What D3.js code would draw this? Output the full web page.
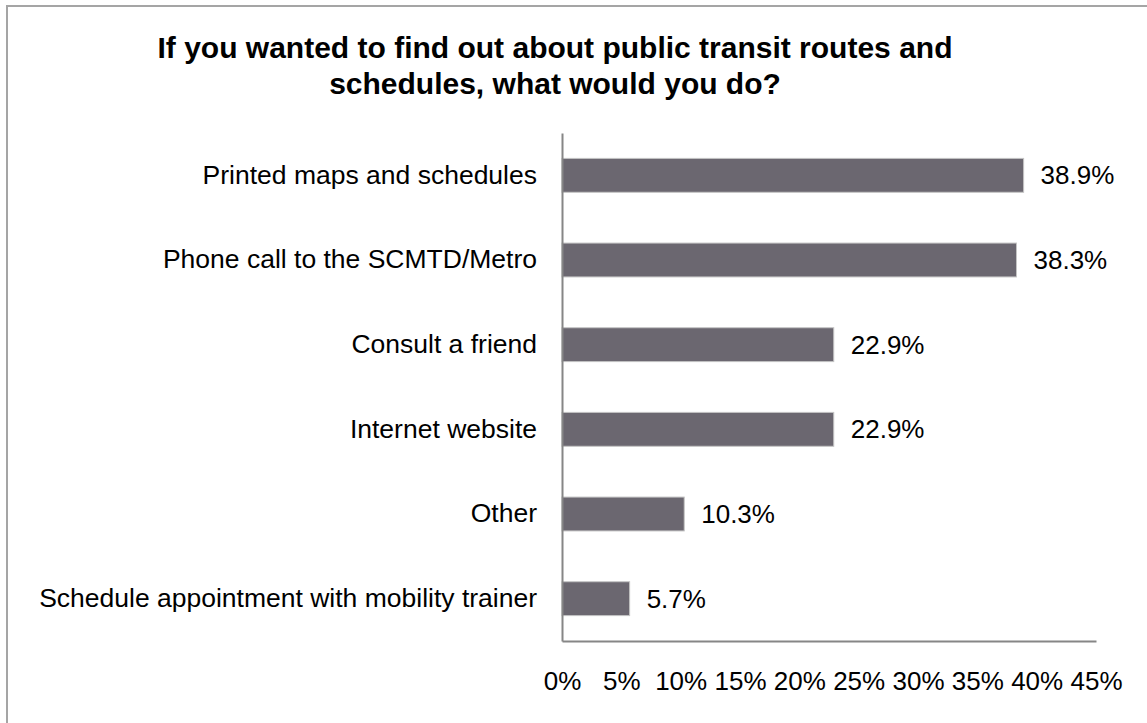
<!DOCTYPE html>
<html>
<head>
<meta charset="utf-8">
<script src="https://cdn.jsdelivr.net/npm/d3@7"></script>
<style>
  body { margin: 0; background: #fff; }
  text { font-family: Arial, "Liberation Sans", sans-serif; fill: #000; }
</style>
</head>
<body>
<svg id="svg" width="1147" height="723"></svg>
<script>
// 質問項目と回答率
const categories = [
  "Printed maps and schedules",
  "Phone call to the SCMTD/Metro",
  "Consult a friend",
  "Internet website",
  "Other",
  "Schedule appointment with mobility trainer"
];
const values = [38.9, 38.3, 22.9, 22.9, 10.3, 5.7];
const tickValues = [0, 5, 10, 15, 20, 25, 30, 35, 40, 45];
const titleLines = [
  "If you wanted to find out about public transit routes and",
  "schedules, what would you do?"
];

const svg = d3.select("#svg");

// 外枠
svg.append("rect")
  .attr("x", 7).attr("y", 6)
  .attr("width", 1160).attr("height", 740)
  .attr("fill", "none")
  .attr("stroke", "#a5a5a5")
  .attr("stroke-width", 2);

// タイトル
svg.append("g").selectAll("text")
  .data(titleLines)
  .join("text")
  .attr("x", 555)
  .attr("y", (d, i) => 58 + i * 36)
  .attr("text-anchor", "middle")
  .attr("font-size", 30)
  .attr("font-weight", "bold")
  .text(d => d);

const plotLeft = 562, plotBottom = 641, plotTop = 133;

// 横軸のスケール
const x = d3.scaleLinear().domain([0, 45]).range([plotLeft, 1096]);
const y = d3.scaleBand().domain(categories).range([plotTop, plotBottom])
  .paddingInner(0.6).paddingOuter(0.3);

// 棒
svg.append("g").selectAll("rect")
  .data(values)
  .join("rect")
  .attr("x", x(0))
  .attr("y", (d, i) => y(categories[i]))
  .attr("width", d => x(d) - x(0))
  .attr("height", y.bandwidth())
  .attr("fill", "#6b6770")
  .attr("stroke", "#c4c4c4")
  .attr("stroke-width", 1);

// 値ラベル
svg.append("g").selectAll("text")
  .data(values)
  .join("text")
  .attr("x", d => x(d) + 17)
  .attr("y", (d, i) => y(categories[i]) + y.bandwidth() / 2)
  .attr("dy", "0.35em")
  .attr("font-size", 26)
  .text(d => d.toFixed(1) + "%");

// カテゴリ軸
const yAxis = svg.append("g")
  .attr("transform", `translate(${plotLeft},0)`)
  .call(d3.axisLeft(y).tickSize(0).tickPadding(25));
yAxis.select(".domain").attr("stroke", "#868686").attr("stroke-width", 2);
yAxis.selectAll("text").attr("font-size", 26.5).attr("font-family", null);

// 数値軸
const xAxis = svg.append("g")
  .attr("transform", `translate(0,${plotBottom})`)
  .call(d3.axisBottom(x).tickValues(tickValues).tickSize(0).tickPadding(31)
    .tickFormat(d => d + "%"));
xAxis.select(".domain").attr("stroke", "#868686").attr("stroke-width", 2);
xAxis.selectAll("text").attr("font-size", 26).attr("font-family", null);
</script>
</body>
</html>
